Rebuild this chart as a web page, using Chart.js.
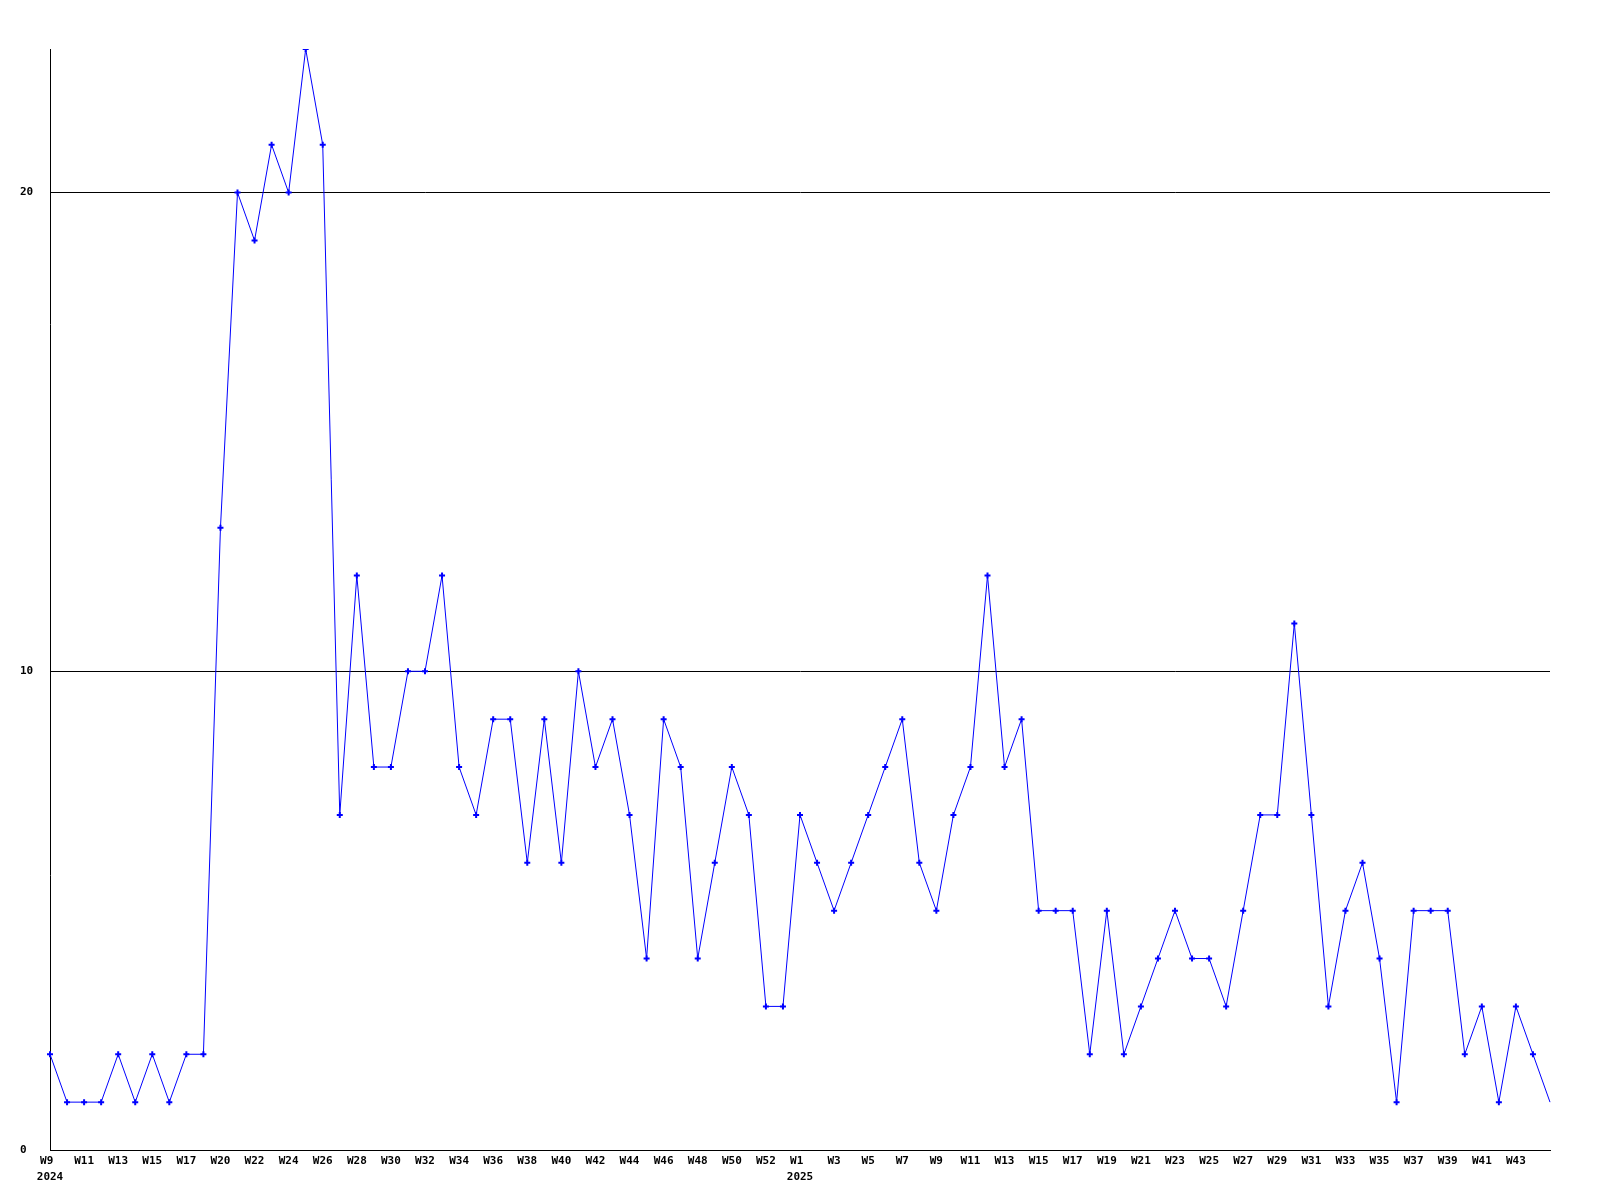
<!DOCTYPE html>
<html>
<head>
<meta charset="utf-8">
<script src="https://cdn.jsdelivr.net/npm/chart.js@4.4.1/dist/chart.umd.min.js"></script>
<style>
  body { margin: 0; background: #ffffff; }
  #wrap { width: 1600px; height: 1200px; }
</style>
</head>
<body>
<div id="wrap"><canvas id="weekChart" width="1600" height="1200"></canvas></div>
<script>
// week labels, 2024 (no W18) and 2025
const weeks2024 = ['W9','W10','W11','W12','W13','W14','W15','W16','W17','W19',
  'W20','W21','W22','W23','W24','W25','W26','W27','W28','W29',
  'W30','W31','W32','W33','W34','W35','W36','W37','W38','W39',
  'W40','W41','W42','W43','W44','W45','W46','W47','W48','W49',
  'W50','W51','W52','W53'];
const weeks2025 = ['W1','W2','W3','W4','W5','W6','W7','W8','W9','W10',
  'W11','W12','W13','W14','W15','W16','W17','W18','W19','W20',
  'W21','W22','W23','W24','W25','W26','W27','W28','W29','W30',
  'W31','W32','W33','W34','W35','W36','W37','W38','W39','W40',
  'W41','W42','W43','W44','W45'];

// weekly counts
const counts2024 = [2,1,1,1,2,1,2,1,2,2,
  13,20,19,21,20,23,21,7,12,8,
  8,10,10,12,8,7,9,9,6,9,
  6,10,8,9,7,4,9,8,4,6,
  8,7,3,3];
const counts2025 = [7,6,5,6,7,8,9,6,5,7,
  8,12,8,9,5,5,5,2,5,2,
  3,4,5,4,4,3,5,7,7,11,
  7,3,5,6,4,1,5,5,5,2,
  3,1,3,2,1];

const yTicks = [0, 10, 20];
const yMax = 23;

// year goes under the first week of each year (week padded so it sits left like the year)
const labels = weeks2024.map((w, i) => i === 0 ? [w.padEnd(3, ' '), '2024'] : w)
  .concat(weeks2025.map((w, i) => i === 0 ? [w.padEnd(3, ' '), '2025'] : w));
const values = counts2024.concat(counts2025);
const lastIdx = values.length - 1;

const tickFont = { family: "'DejaVu Sans Mono', monospace", size: 11, weight: 'bold', lineHeight: 1.45 };

const ctx = document.getElementById('weekChart').getContext('2d');
const weekChart = new Chart(ctx, {
  type: 'line',
  data: {
    labels: labels,
    datasets: [{
      data: values,
      borderColor: '#0000ff',
      backgroundColor: '#0000ff',
      borderWidth: 1,
      tension: 0,
      pointStyle: 'cross',
      pointRadius: c => c.dataIndex === lastIdx ? 0 : 3,
      pointBorderWidth: 2,
      pointBorderColor: '#0000ff'
    }]
  },
  options: {
    responsive: false,
    animation: false,
    layout: { padding: { top: 49, right: 50, left: 20, bottom: 0 } },
    plugins: { legend: { display: false }, tooltip: { enabled: false } },
    scales: {
      x: {
        offset: false,
        grid: { display: false, drawTicks: false },
        border: { display: true, color: '#000000', width: 1 },
        afterFit: s => { s.height = 50; },
        ticks: {
          autoSkip: false,
          maxRotation: 0,
          padding: 3,
          color: '#000000',
          font: tickFont,
          // every other week, last one left out
          callback: function(val, i) {
            return (i % 2 === 0 && i !== lastIdx) ? this.getLabelForValue(val) : '';
          }
        }
      },
      y: {
        min: 0,
        max: yMax,
        afterFit: s => { s.width = 30; },
        afterBuildTicks: s => { s.ticks = yTicks.map(v => ({ value: v })); },
        grid: { color: '#000000', lineWidth: 1, drawTicks: false },
        border: { display: true, color: '#000000', width: 1 },
        ticks: {
          crossAlign: 'far',
          padding: 0,
          color: '#000000',
          font: tickFont
        }
      }
    }
  }
});
</script>
</body>
</html>
